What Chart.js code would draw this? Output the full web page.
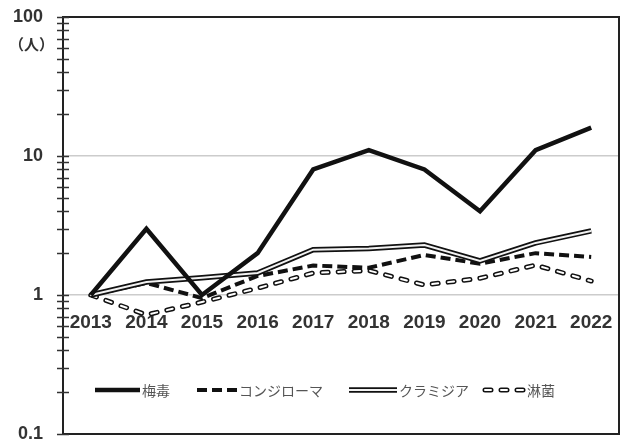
<!DOCTYPE html>
<html>
<head>
<meta charset="utf-8">
<script src="https://cdn.jsdelivr.net/npm/chart.js@4/dist/chart.umd.min.js"></script>
<style>
  html, body { margin: 0; padding: 0; background: #fff; }
  canvas { display: block; }
</style>
</head>
<body>
<canvas id="chart" width="625" height="443"></canvas>
<script>
// 報告数の推移（2013年を1とした比、対数目盛）
const years = ['2013', '2014', '2015', '2016', '2017', '2018', '2019', '2020', '2021', '2022'];
const syphilis = [1, 3, 1, 2, 8, 11, 8, 4, 11, 16];
const condyloma = [1, 1.22, 0.95, 1.37, 1.63, 1.57, 1.94, 1.68, 2.0, 1.88];
const chlamydia = [1, 1.24, 1.33, 1.44, 2.12, 2.16, 2.29, 1.76, 2.37, 2.89];
const gonorrhea = [1, 0.72, 0.89, 1.12, 1.44, 1.5, 1.18, 1.32, 1.64, 1.26];

const seriesNames = ['梅毒', 'コンジローマ', 'クラミジア', '淋菌'];
const yMajorTicks = [0.1, 1, 10, 100];
const yTickValues = [];
for (const d of [0.1, 1, 10]) {
  for (let k = 1; k <= 9; k++) yTickValues.push(+(d * k).toFixed(2));
}
yTickValues.push(100);

const INK = '#111';
const LABEL_FONT = '"Liberation Sans", Arial, sans-serif';
const JP_FONT = '"Noto Sans CJK JP", sans-serif';

// line styles, reused by the legend
const styles = [
  [{ color: INK, width: 4.5, dash: [], cap: 'butt' }],
  [{ color: INK, width: 4, dash: [10, 5], cap: 'butt' }],
  [{ color: INK, width: 5.5, dash: [], cap: 'butt' }, { color: '#f2f2f2', width: 2, dash: [], cap: 'butt' }],
  [{ color: INK, width: 5, dash: [6, 10], cap: 'round' }, { color: '#fff', width: 2, dash: [6, 10], cap: 'round' }],
];
const seriesData = [syphilis, condyloma, chlamydia, gonorrhea];
const seriesOrder = [[0], [3], [2, 1], [5, 4]];

const datasets = [];
seriesData.forEach((data, i) => {
  styles[i].forEach((s, j) => {
    datasets.push({
      label: j === 0 ? seriesNames[i] : seriesNames[i] + '_inner',
      data,
      borderColor: s.color,
      borderWidth: s.width,
      borderDash: s.dash,
      borderCapStyle: s.cap,
      borderJoinStyle: 'miter',
      pointRadius: 0,
      tension: 0,
      fill: false,
      order: seriesOrder[i][j],
    });
  });
});

const framePlugin = {
  id: 'frame',
  afterDraw(chart) {
    const { ctx, chartArea: a, scales: { y } } = chart;
    ctx.save();
    ctx.strokeStyle = '#222';
    ctx.lineWidth = 2;
    ctx.setLineDash([]);
    ctx.strokeRect(a.left, a.top, a.right - a.left, a.bottom - a.top);

    // tick marks crossing the value axis
    ctx.lineWidth = 1.5;
    ctx.strokeStyle = '#333';
    for (const v of yTickValues) {
      const py = Math.round(y.getPixelForValue(v)) + 0.5;
      ctx.beginPath();
      ctx.moveTo(a.left - 6, py);
      ctx.lineTo(a.left + 6, py);
      ctx.stroke();
    }

    // unit label under the top tick
    ctx.fillStyle = '#333';
    ctx.font = 'bold 15px ' + JP_FONT;
    ctx.textAlign = 'right';
    ctx.textBaseline = 'middle';
    ctx.fillText('（人）', 54, 44);
    ctx.restore();
  }
};

const legendItems = [
  { x: 95, w: 45 },
  { x: 197, w: 40 },
  { x: 349, w: 48 },
  { x: 485, w: 40 },
];

const legendPlugin = {
  id: 'lineLegend',
  afterDraw(chart) {
    const { ctx } = chart;
    const ly = 390;
    ctx.save();
    legendItems.forEach((it, i) => {
      for (const s of styles[i]) {
        ctx.beginPath();
        ctx.strokeStyle = s.color;
        ctx.lineWidth = s.width;
        ctx.setLineDash(s.dash);
        ctx.lineCap = s.cap;
        ctx.moveTo(it.x, ly);
        ctx.lineTo(it.x + it.w, ly);
        ctx.stroke();
      }
      ctx.setLineDash([]);
      ctx.fillStyle = '#555';
      ctx.font = '14px ' + JP_FONT;
      ctx.textAlign = 'left';
      ctx.textBaseline = 'middle';
      ctx.fillText(seriesNames[i], it.x + it.w + 2, ly + 1);
    });
    ctx.restore();
  }
};

new Chart(document.getElementById('chart'), {
  type: 'line',
  data: { labels: years, datasets },
  options: {
    responsive: false,
    animation: false,
    layout: { padding: { top: 17, right: 6, bottom: 9, left: 0 } },
    plugins: { legend: { display: false }, tooltip: { enabled: false } },
    scales: {
      x: {
        type: 'category',
        position: { y: 1 },
        offset: true,
        afterFit: (scale) => {
          scale.height = 0;
          scale.paddingLeft = 0;
          scale.paddingRight = 0;
        },
        grid: { display: false, drawTicks: false },
        border: { display: false },
        ticks: {
          color: '#333',
          padding: 16,
          maxRotation: 0,
          autoSkip: false,
          font: { family: LABEL_FONT, size: 19, weight: 'bold' },
        },
      },
      y: {
        type: 'logarithmic',
        min: 0.1,
        max: 100,
        afterBuildTicks: (scale) => { scale.ticks = yTickValues.map((v) => ({ value: v })); },
        afterFit: (scale) => {
          scale.width = 63;
          scale.paddingTop = 0;
          scale.paddingBottom = 0;
        },
        grid: {
          drawTicks: false,
          lineWidth: 1.5,
          color: (c) => (c.tick && (c.tick.value === 1 || c.tick.value === 10)) ? '#cccccc' : 'rgba(0,0,0,0)',
        },
        border: { color: '#222', width: 2 },
        ticks: {
          autoSkip: false,
          padding: 20,
          color: '#333',
          font: { family: LABEL_FONT, size: 18, weight: 'bold' },
          callback: (v) => yMajorTicks.includes(v) ? String(v) : '',
        },
      },
    },
  },
  plugins: [framePlugin, legendPlugin],
});
</script>
</body>
</html>
